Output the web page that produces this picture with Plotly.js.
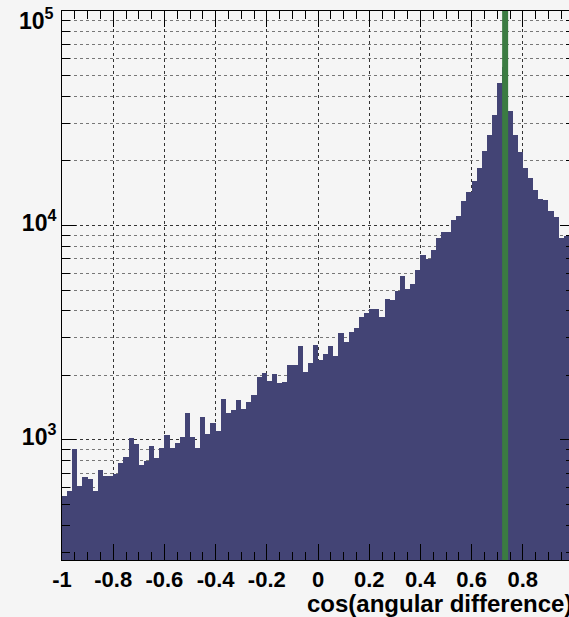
<!DOCTYPE html>
<html>
<head>
<meta charset="utf-8">
<script src="https://cdn.plot.ly/plotly-3.0.1.min.js"></script>
<style>
  html, body { margin: 0; padding: 0; background: #f5f5f5; overflow: hidden; }
  #chart { width: 600px; height: 617px; }
</style>
</head>
<body>
<div id="chart"></div>
<script>
// Histogram: 100 bins of width 0.02 from -1 to 1
const binStart = -1;
const binWidth = 0.02;
const counts = [
  547, 578, 908, 610, 672, 657, 580, 722, 681, 681,
  694, 778, 833, 1022, 955, 764, 800, 935, 827, 920,
  1055, 915, 966, 1030, 1333, 1030, 915, 1277, 1067, 1197,
  1106, 1549, 1341, 1381, 1543, 1401, 1500, 1618, 1976, 2045,
  1881, 2028, 1841, 1853, 2242, 2225, 2744, 2073, 2295, 2774,
  2348, 2509, 2744, 2464, 3152, 2848, 3186, 3330, 3764, 3900,
  4081, 4081, 3728, 4558, 4472, 4932, 5824, 5060, 5341, 6182,
  7318, 7013, 7657, 8760, 9354, 9354, 10632, 11110, 12990, 14370,
  16060, 18470, 22340, 26340, 32660, 46430, 55000, 34200, 26340, 22000,
  18470, 16710, 14570, 13225, 13085, 11660, 10980, 8760, 8913, 8800
];
const cutValue = [0.731];
const xTickVals = [-1, -0.8, -0.6, -0.4, -0.2, 0, 0.2, 0.4, 0.6, 0.8];
const xTickText = ['-1', '-0.8', '-0.6', '-0.4', '-0.2', '0', '0.2', '0.4', '0.6', '0.8'];
const yTickVals = [1e3, 1e4, 1e5];
const yTickText = ['10<sup>3</sup>', '10<sup>4</sup>', ''];
const yTopLabel = '10<sup>5</sup>';
const yMinorVals = [300, 400, 500, 600, 700, 800, 900,
  2000, 3000, 4000, 5000, 6000, 7000, 8000, 9000,
  20000, 30000, 40000, 50000, 60000, 70000, 80000, 90000];
const xTitle = 'cos(angular difference)';

const xs = counts.map((_, i) => binStart + binWidth * (i + 0.5));
const font = 'Liberation Sans, Arial, Helvetica, sans-serif';

const traces = [{
  type: 'bar',
  x: xs,
  y: counts,
  width: binWidth,
  marker: { color: '#434475', line: { width: 0 } },
  hoverinfo: 'x+y'
}];

const layout = {
  width: 600, height: 617,
  margin: { l: 62, r: 26, t: 11, b: 57 },
  paper_bgcolor: '#f5f5f5',
  plot_bgcolor: '#f5f5f5',
  showlegend: false,
  bargap: 0,
  xaxis: {
    range: [-1, 1],
    tickmode: 'array', tickvals: xTickVals, ticktext: xTickText,
    ticks: 'inside', ticklen: 16, tickwidth: 1, tickcolor: '#000',
    showline: true, linecolor: '#000', linewidth: 1, mirror: 'allticks',
    showgrid: true, gridcolor: '#333', griddash: 'dot', gridwidth: 1,
    zeroline: false,
    tickfont: { family: font, size: 22, color: '#000', weight: 'bold' },
    minor: { tickmode: 'linear', tick0: 0, dtick: 0.05, ticks: 'inside', ticklen: 8, tickcolor: '#000', showgrid: false }
  },
  yaxis: {
    type: 'log',
    range: [2.44, 5.0005],
    tickmode: 'array', tickvals: yTickVals, ticktext: yTickText,
    ticks: 'inside', ticklen: 14, tickwidth: 1, tickcolor: '#000',
    showline: true, linecolor: '#000', linewidth: 1, mirror: 'allticks',
    showgrid: true, gridcolor: '#333', griddash: 'dot', gridwidth: 1,
    zeroline: false,
    ticklabeloverflow: 'allow',
    ticklabelshift: -3,
    tickfont: { family: font, size: 23, color: '#000', weight: 'bold' },
    minor: { tickmode: 'array', tickvals: yMinorVals, ticks: 'inside', ticklen: 8, tickcolor: '#000',
             showgrid: true, gridcolor: '#777', griddash: 'dot', gridwidth: 1 }
  },
  shapes: [{
    type: 'line', xref: 'x', yref: 'paper',
    x0: cutValue[0], x1: cutValue[0], y0: 0, y1: 1,
    line: { color: '#3b7b42', width: 6 }, layer: 'above'
  }],
  annotations: [{
    text: xTitle, xref: 'paper', yref: 'paper', x: 1, y: 0,
    xanchor: 'right', yanchor: 'middle', yshift: -43, showarrow: false,
    font: { family: font, size: 24, color: '#000', weight: 'bold' }
  }, {
    text: yTopLabel, xref: 'paper', yref: 'y', x: 0, y: 5,
    xanchor: 'right', yanchor: 'middle', xshift: -6, yshift: -8, showarrow: false,
    font: { family: font, size: 23, color: '#000', weight: 'bold' }
  }]
};

Plotly.newPlot('chart', traces, layout, { displayModeBar: false, staticPlot: true });
</script>
</body>
</html>
